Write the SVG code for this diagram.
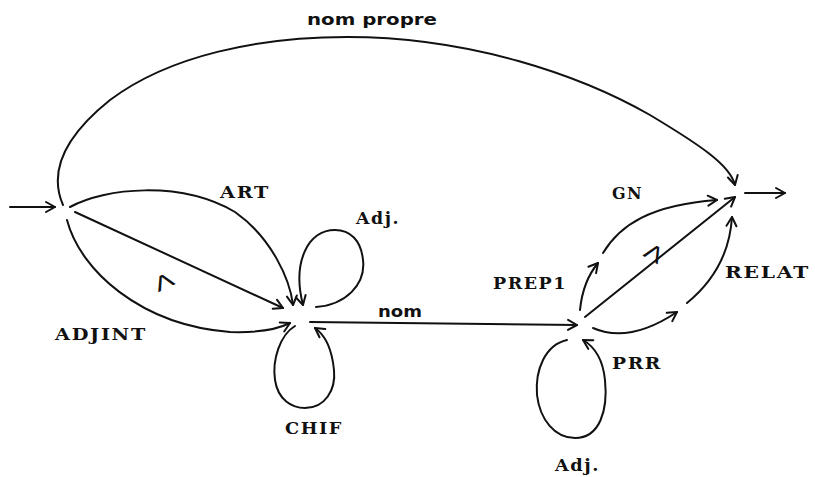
<svg xmlns="http://www.w3.org/2000/svg" width="815" height="477" viewBox="0 0 815 477">
<style>
.e{fill:none;stroke:#111;stroke-width:2;stroke-linecap:round;marker-end:url(#arr)}
.lab{font-family:"DejaVu Serif","Liberation Serif",serif;font-size:17px;fill:#111;font-weight:bold;letter-spacing:1.5px}
.sm{font-family:"DejaVu Sans","Liberation Sans",sans-serif;font-size:16px;fill:#111;font-weight:bold}
.lam{font-family:"DejaVu Sans","Liberation Sans",sans-serif;font-size:24px;fill:#111}
</style>
<defs>
<marker id="arr" viewBox="-12 -7 14 14" refX="0" refY="0" markerWidth="14" markerHeight="14" orient="auto" markerUnits="userSpaceOnUse">
<path d="M -9 -5 L 0 0 L -9 5" fill="none" stroke="#111" stroke-width="2" stroke-linecap="round" stroke-linejoin="round"/>
</marker>
</defs>
<rect width="815" height="477" fill="#fff"/>
<g id="connectors">
<path class="e" d="M 10 207 L 55 207"/>
<path class="e" d="M 745 193 L 785 193"/>
<path class="e" d="M 63 205 C 50 175, 60 140, 110 100 C 170 55, 260 37, 347 37 C 470 37, 580 75, 650 115 C 700 145, 730 165, 735 185"/>
<path class="e" d="M 70 207 C 105 188, 180 180, 235 212 C 272 238, 290 280, 293 305"/>
<path class="e" d="M 75 212 L 283 308"/>
<path class="e" d="M 67 220 C 80 270, 140 325, 230 332 C 260 333, 280 328, 290 323"/>
<path class="e" d="M 316 307 C 345 305, 366 285, 363 260 C 361 240, 350 230, 335 230 C 308 230, 292 262, 303 305"/>
<path class="e" d="M 295 326 C 280 335, 272 360, 275 380 C 278 400, 292 408, 305 408 C 325 408, 336 390, 334 370 C 332 350, 325 335, 315 328"/>
<path class="e" d="M 310 322 L 577 325"/>
<path class="e" d="M 580 310 C 582 290, 588 275, 598 263"/>
<path class="e" d="M 603 253 C 620 225, 650 205, 717 200"/>
<path class="e" d="M 585 317 L 735 197"/>
<path class="e" d="M 593 328 C 620 340, 650 330, 677 312"/>
<path class="e" d="M 687 303 C 715 280, 730 250, 732 217"/>
<path class="e" d="M 567 340 C 545 345, 535 370, 537 395 C 540 420, 555 438, 575 438 C 600 438, 608 410, 605 380 C 603 360, 595 347, 583 340"/>
</g>
<g id="labels">
<text class="sm" x="307" y="25" textLength="130" lengthAdjust="spacingAndGlyphs">nom propre</text>
<text class="sm" x="378" y="317" font-size="14" textLength="44" lengthAdjust="spacingAndGlyphs">nom</text>
<text class="lab" x="220" y="198" textLength="50" lengthAdjust="spacingAndGlyphs">ART</text>
<text class="lab" x="55" y="340" textLength="92" lengthAdjust="spacingAndGlyphs">ADJINT</text>
<text class="lab" x="356" y="224" textLength="44" lengthAdjust="spacingAndGlyphs">Adj.</text>
<text class="lab" x="285" y="434" textLength="58" lengthAdjust="spacingAndGlyphs">CHIF</text>
<text class="lab" x="493" y="289" textLength="74" lengthAdjust="spacingAndGlyphs">PREP1</text>
<text class="lab" x="612" y="199" textLength="31" lengthAdjust="spacingAndGlyphs">GN</text>
<text class="lab" x="725" y="278" textLength="85" lengthAdjust="spacingAndGlyphs">RELAT</text>
<text class="lab" x="612" y="369" textLength="50" lengthAdjust="spacingAndGlyphs">PRR</text>
<text class="lab" x="555" y="471" textLength="45" lengthAdjust="spacingAndGlyphs">Adj.</text>
<text class="lam" transform="translate(167,288) rotate(-25) scale(1.2,0.8)" text-anchor="middle">Λ</text>
<text class="lam" transform="translate(650,260) rotate(30) scale(1.1,0.9)" text-anchor="middle">Λ</text>
</g>
</svg>
